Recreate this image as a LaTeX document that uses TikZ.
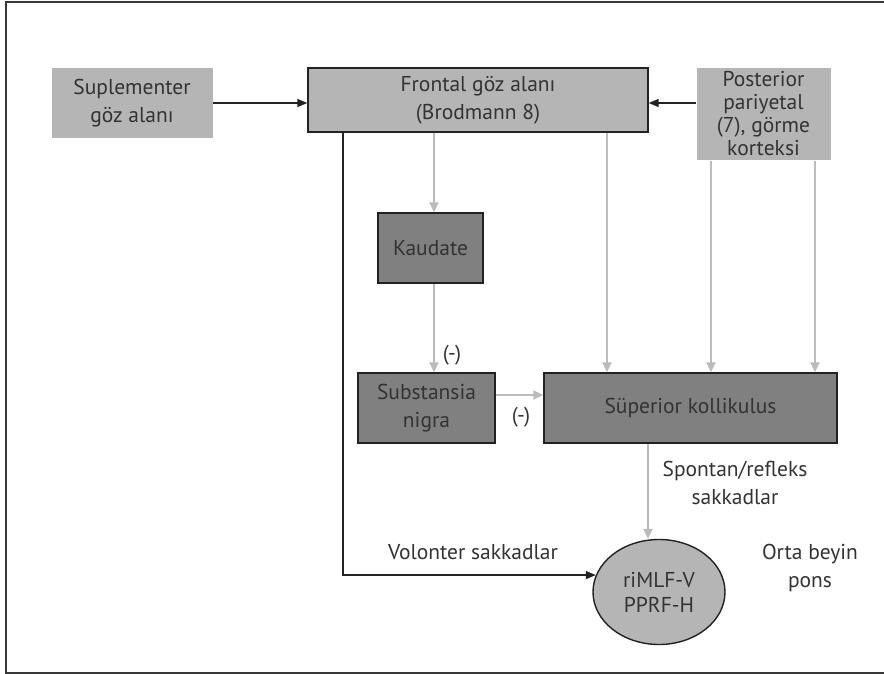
\documentclass[tikz,border=0pt]{standalone}
\usepackage{fontspec}
\setmainfont{PT Sans}
\usepackage{xcolor}
\definecolor{cLight}{HTML}{B5B5B5}
\definecolor{cDark} {HTML}{808080}
\definecolor{cLine} {HTML}{BBBBBB}
\definecolor{cInk}  {HTML}{222222}
\definecolor{cText} {HTML}{333333}
\usepackage{tikz}
\usetikzlibrary{shapes.geometric, arrows.meta, positioning, calc}
\tikzset{
  box/.style  = {rectangle, draw=cInk, line width=1.4pt, fill=#1,
                 inner sep=0pt, align=center, text=cText,
                 font=\fontsize{21.5}{28}\selectfont},
  box/.default = cLight,
  arr/.style  = {-{Triangle[length=10pt,width=8pt]}, draw=cInk, line width=1.5pt},
  garr/.style = {-{Triangle[length=10pt,width=9pt]}, draw=cLine, line width=2pt},
  lbl/.style  = {align=center, text=cText, inner sep=0pt,
                 font=\fontsize{21.5}{28}\selectfont},
}

\begin{document}
\begin{tikzpicture}[x=1pt, y=-1pt,
  oval/.style={ellipse, draw=cInk, line width=1.4pt, fill=cLight,
               minimum width=132pt, minimum height=105pt, inner sep=0pt,
               align=center, text=cText, font=\fontsize{21.5}{25}\selectfont},
]
  \useasboundingbox (0,0) rectangle (884,674);
  \draw[cInk!90, line width=1.6pt] (890,2) -- (6,2) -- (6,673) -- (890,673);

  %% Cortex row
  \node[box, draw=none, minimum width=161pt, minimum height=70pt]
        (supl) at (132,103) {Suplementer\\göz alanı};
  \node[box, minimum width=340pt, minimum height=64pt]
        (fef)  at (478,100) {Frontal göz alanı\\(Brodmann 8)};
  \node[box, draw=none, minimum width=134pt, minimum height=92pt,
        font=\fontsize{21.5}{23}\selectfont]
        (post) at (763.5,114) {Posterior\\pariyetal\\(7), görme\\korteksi};

  %% Basal ganglia and colliculus
  \node[box=cDark, minimum width=105pt, minimum height=70pt]
        (kaud) at (430.5,248) {Kaudate};
  \node[box=cDark, minimum width=137pt, minimum height=70pt]
        (snig) at (426.5,408) {Substansia\\nigra};
  \node[box=cDark, minimum width=293pt, minimum height=70pt]
        (sc)   at (690.5,408) {Süperior kollikulus};

  \node[oval] (gaze) at (659,592) {riMLF-V\\PPRF-H};

  \draw[arr] (supl.east) -- (supl.east -| fef.west);
  \draw[arr] (post.west |- supl.east) -- (fef.east |- supl.east);

  %% Voluntary pathway
  \draw[arr] ([xshift=-135pt]fef.south) |- (gaze.165);

  %% Grey projections
  \coordinate (cK) at (434,0);
  \coordinate (cS) at (607,0);
  \coordinate (cD) at (648,0);
  \draw[garr] (cK |- fef.south)  -- (cK |- kaud.north);
  \draw[garr] (cK |- kaud.south) -- (cK |- snig.north);
  \draw[garr] (cS |- fef.south)  -- (cS |- sc.north);
  \foreach \px in {711,815}{
    \coordinate (cP) at (\px,0);
    \draw[garr] (cP |- post.south) -- (cP |- sc.north);
  }
  \draw[garr] ([yshift=13pt]snig.east) -- ([yshift=13pt]sc.west);
  \draw[garr] (cD |- sc.south) -- (cD |- gaze.north);

  %% Labels
  \node[lbl] (neg1) at (452,355) {(-)};
  \node[lbl] (neg2) at (521,417) {(-)};
  \node[lbl] (vol)  at (473,552) {Volonter sakkadlar};
  \node[lbl] (spon) at (735,483) {Spontan/refleks\\sakkadlar};
  \node[lbl] (orta) at (810,568) {Orta beyin\\pons};

\end{tikzpicture}
\end{document}
